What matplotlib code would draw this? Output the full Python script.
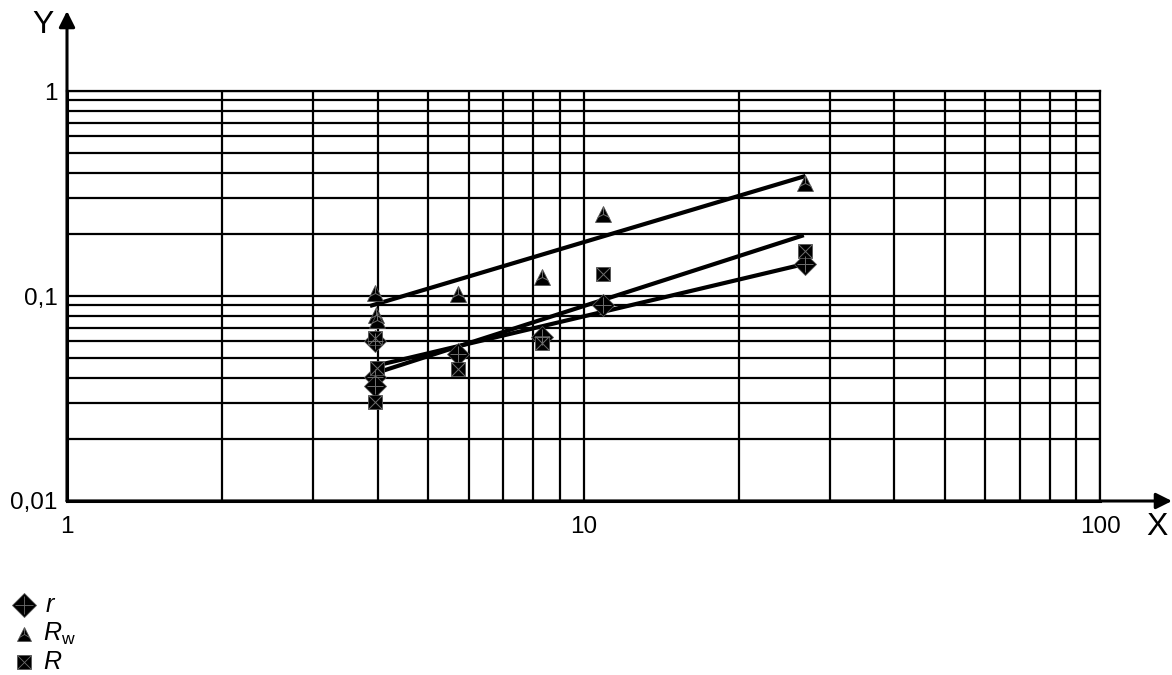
import matplotlib
matplotlib.use("Agg")
import matplotlib.pyplot as plt
from matplotlib.ticker import NullFormatter, LogLocator

plt.rcParams['font.family'] = ['Liberation Sans', 'DejaVu Sans']
plt.rcParams['mathtext.fontset'] = 'custom'
plt.rcParams['mathtext.it'] = 'Liberation Sans:italic'
plt.rcParams['mathtext.rm'] = 'Liberation Sans'

# measured points
x_r = [3.95, 3.95, 3.95, 5.71, 8.3, 10.9, 26.9]
r_vals = [0.0604, 0.0402, 0.0364, 0.0521, 0.0630, 0.0904, 0.1434]

x_rw = [3.95, 3.97, 3.99, 5.71, 8.3, 10.9, 26.9]
rw_vals = [0.1035, 0.0808, 0.0765, 0.102, 0.124, 0.250, 0.356]

x_R = [3.95, 3.98, 3.95, 5.71, 8.3, 10.9, 26.9]
R_vals = [0.0624, 0.0445, 0.0304, 0.0440, 0.0592, 0.128, 0.166]

# trend lines (end points)
fit_x_rw = [3.86, 26.9]
fit_rw = [0.0894, 0.385]
fit_x_R = [4.02, 26.7]
fit_R = [0.0426, 0.198]
fit_x_r = [4.02, 26.3]
fit_r = [0.0461, 0.1417]

W, H = 1172, 675
fig = plt.figure(figsize=(W / 100, H / 100), dpi=100)
ax = fig.add_axes([67 / W, 174 / H, (1100 - 67) / W, 410 / H])
ax.set_xscale('log')
ax.set_yscale('log')
ax.set_xlim(1, 100)
ax.set_ylim(0.01, 1)

ax.xaxis.set_minor_locator(LogLocator(base=10, subs=range(2, 10)))
ax.yaxis.set_minor_locator(LogLocator(base=10, subs=range(2, 10)))
ax.xaxis.set_minor_formatter(NullFormatter())
ax.yaxis.set_minor_formatter(NullFormatter())
ax.set_xticks([1, 10, 100], labels=['1', '10', '100'])
ax.set_yticks([0.01, 0.1, 1], labels=['0,01', '0,1', '1'])
ax.tick_params(which='both', length=0, labelsize=17.5)
ax.tick_params(axis='x', pad=11)
ax.tick_params(axis='y', pad=7)
ax.grid(True, which='both', color='black', linewidth=1.6)
for s in ax.spines.values():
    s.set_linewidth(1.6)
ax.spines['left'].set_linewidth(2.2)
ax.spines['bottom'].set_linewidth(2.2)

# axis arrows
arrow = dict(arrowstyle='-|>', color='black', lw=2.2, mutation_scale=24, shrinkA=0, shrinkB=0)
ax.annotate('', xy=(0, (501 - 11) / 410), xytext=(0, 0), xycoords='axes fraction',
            arrowprops=arrow, annotation_clip=False)
ax.annotate('', xy=((1172 - 67) / 1033, 0), xytext=(0, 0), xycoords='axes fraction',
            arrowprops=arrow, annotation_clip=False)
fig.text(43 / W, 1 - 25 / H, 'Y', fontsize=23, ha='center', va='center')
fig.text(1157 / W, 1 - 527 / H, 'X', fontsize=23, ha='center', va='center')

# fits
for fx, fy in [(fit_x_rw, fit_rw), (fit_x_R, fit_R), (fit_x_r, fit_r)]:
    ax.plot(fx, fy, color='black', linewidth=3, solid_capstyle='butt', zorder=3)

# markers: filled black with grey inner strokes
styles = [
    (x_r, r_vals, 'D', 11, '+', 12),
    (x_rw, rw_vals, '^', 11, '2', 10),
    (x_R, R_vals, 's', 10.5, 'x', 9.5),
]
for xs, ys, m, ms, im, ims in styles:
    ax.plot(xs, ys, linestyle='none', marker=m, markersize=ms, color='black',
            markeredgecolor='#555555', markeredgewidth=0.6, zorder=4, clip_on=False)
    ax.plot(xs, ys, linestyle='none', marker=im, markersize=ims, color='#6e6e6e',
            markeredgewidth=0.7, zorder=5, clip_on=False)

# legend drawn in figure coords
leg_items = [
    ('D', 12, '+', 12.5, '$r$', 605, 45),
    ('^', 9.5, '2', 9, r'$R_\mathrm{w}$', 634, 43),
    ('s', 10.5, 'x', 9.5, '$R$', 662, 43),
]
for m, ms, im, ims, lab, py, tx in leg_items:
    yf = 1 - py / H
    ax.plot([24 / W], [yf], transform=fig.transFigure, marker=m, markersize=ms,
            color='black', markeredgecolor='#555555', markeredgewidth=0.6, clip_on=False)
    ax.plot([24 / W], [yf], transform=fig.transFigure, marker=im, markersize=ims,
            color='#6e6e6e', markeredgewidth=0.6, clip_on=False)
    fig.text(tx / W, yf, lab, fontsize=18, ha='left', va='center')

fig.savefig('out.png', dpi=100, facecolor='white')
